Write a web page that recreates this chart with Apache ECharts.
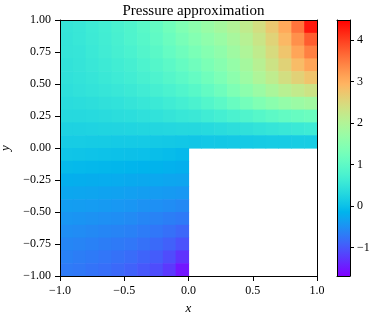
<!DOCTYPE html>
<html><head><meta charset="utf-8">
<script src="https://cdn.jsdelivr.net/npm/echarts@6/dist/echarts.min.js"></script>
<style>html,body{margin:0;padding:0;background:#fff}#c{width:381px;height:313px}</style>
</head><body><div id="c"></div>
<script>
// ---- data ----
const title = 'Pressure approximation';
const xTickLabels = ['\u22121.0', '\u22120.5', '0.0', '0.5', '1.0'];
const yTickLabels = ['\u22121.00', '\u22120.75', '\u22120.50', '\u22120.25', '0.00', '0.25', '0.50', '0.75', '1.00'];
const cbTicks = [-1, 0, 1, 2, 3, 4];
const cbMin = -1.69;
const cbMax = 4.48;
const cellSize = 0.1;
// cell centres
const xCenters = [-0.95, -0.85, -0.75, -0.65, -0.55, -0.45, -0.35, -0.25, -0.15, -0.05,
                  0.05, 0.15, 0.25, 0.35, 0.45, 0.55, 0.65, 0.75, 0.85, 0.95];
const yUpper = [0.95, 0.85, 0.75, 0.65, 0.55, 0.45, 0.35, 0.25, 0.15, 0.05];
const yLower = [-0.05, -0.15, -0.25, -0.35, -0.45, -0.55, -0.65, -0.75, -0.85, -0.95];
// upper strip: y in [0,1], x in [-1,1]
const upperValues = [
  [0.50,0.54,0.60,0.66,0.74,0.82,0.93,1.05,1.22,1.40,1.55,1.70,1.85,2.00,2.18,2.40,2.70,3.05,3.55,4.30],
  [0.49,0.53,0.59,0.65,0.72,0.80,0.90,1.01,1.15,1.30,1.44,1.58,1.72,1.88,2.06,2.28,2.56,2.89,3.30,3.75],
  [0.49,0.51,0.57,0.63,0.69,0.76,0.85,0.95,1.07,1.19,1.32,1.46,1.60,1.78,1.96,2.18,2.45,2.75,3.10,3.45],
  [0.46,0.49,0.54,0.59,0.64,0.70,0.78,0.87,0.97,1.08,1.20,1.34,1.48,1.66,1.85,2.07,2.32,2.57,2.85,3.10],
  [0.44,0.47,0.51,0.55,0.60,0.65,0.72,0.79,0.88,0.97,1.07,1.21,1.36,1.55,1.75,1.96,2.17,2.39,2.58,2.76],
  [0.41,0.44,0.47,0.50,0.54,0.58,0.63,0.69,0.76,0.83,0.92,1.05,1.19,1.37,1.55,1.73,1.91,2.08,2.20,2.32],
  [0.36,0.38,0.40,0.43,0.45,0.49,0.53,0.57,0.62,0.68,0.75,0.86,0.97,1.11,1.25,1.39,1.52,1.64,1.73,1.80],
  [0.31,0.32,0.33,0.35,0.37,0.39,0.42,0.45,0.49,0.53,0.56,0.62,0.68,0.75,0.82,0.90,0.98,1.05,1.10,1.15],
  [0.22,0.22,0.23,0.24,0.25,0.26,0.27,0.28,0.29,0.30,0.30,0.33,0.36,0.40,0.43,0.47,0.50,0.54,0.57,0.60],
  [0.13,0.13,0.12,0.12,0.11,0.11,0.11,0.10,0.09,0.07,0.06,0.08,0.09,0.10,0.11,0.12,0.13,0.14,0.15,0.15]
];
// lower-left block: y in [-1,0], x in [-1,0]
const lowerValues = [
  [0.04,0.03,0.02,0.01,0.00,-0.01,-0.02,-0.04,-0.06,-0.09],
  [-0.08,-0.09,-0.10,-0.11,-0.12,-0.14,-0.15,-0.16,-0.18,-0.20],
  [-0.20,-0.21,-0.22,-0.23,-0.24,-0.26,-0.27,-0.28,-0.30,-0.31],
  [-0.29,-0.30,-0.31,-0.33,-0.34,-0.36,-0.38,-0.40,-0.42,-0.44],
  [-0.38,-0.39,-0.40,-0.42,-0.44,-0.46,-0.49,-0.51,-0.54,-0.57],
  [-0.46,-0.47,-0.49,-0.51,-0.53,-0.56,-0.60,-0.63,-0.67,-0.71],
  [-0.53,-0.55,-0.57,-0.60,-0.62,-0.65,-0.69,-0.74,-0.80,-0.88],
  [-0.60,-0.62,-0.65,-0.68,-0.71,-0.74,-0.79,-0.85,-0.93,-1.05],
  [-0.65,-0.68,-0.71,-0.75,-0.79,-0.83,-0.90,-0.97,-1.10,-1.30],
  [-0.70,-0.73,-0.77,-0.81,-0.86,-0.92,-1.00,-1.09,-1.25,-1.52]
];

// ---- build ----
const cells = [];
yUpper.forEach((y, i) => xCenters.forEach((x, j) => cells.push([x, y, upperValues[i][j]])));
yLower.forEach((y, i) => lowerValues[i].forEach((v, j) => cells.push([xCenters[j], y, v])));

function rainbow(t) {
  const r = Math.min(1, Math.abs(2 * t - 0.5));
  const g = Math.sin(Math.PI * t);
  const b = Math.cos(Math.PI * t / 2);
  const h = v => Math.round(Math.max(0, Math.min(1, v)) * 255);
  return 'rgb(' + h(r) + ',' + h(g) + ',' + h(b) + ')';
}
const N = 40;
const cmap = [];
for (let i = 0; i <= N; i++) cmap.push(rainbow(i / N));

const FONT = 'Liberation Serif';
const chart = echarts.init(document.getElementById('c'), null, {renderer: 'canvas'});
const half = cellSize / 2;
const LINE = {show: true, onZero: false, lineStyle: {color: '#000', width: 1}};
const TXT = {color: '#000', fontSize: 12, fontFamily: FONT};

function borderAxis(extra) {
  return Object.assign({type: 'value', z: 10, axisLine: LINE, axisTick: {show: false},
    axisLabel: {show: false}, splitLine: {show: false}}, extra);
}

chart.setOption({
  animation: false,
  backgroundColor: '#fff',
  textStyle: {fontFamily: FONT},
  title: {text: title, left: 188.5, textAlign: 'center', top: -1,
    textStyle: {fontFamily: FONT, fontSize: 15, fontWeight: 'normal', color: '#000'}},
  grid: [
    {left: 60, top: 20, width: 257, height: 256, containLabel: false, outerBoundsMode: 'none'},
    {left: 337, top: 20, width: 13, height: 256, containLabel: false, outerBoundsMode: 'none'}
  ],
  xAxis: [
    {gridIndex: 0, type: 'value', position: 'bottom', min: -1, max: 1, interval: 0.5, z: 10,
     name: 'x', nameLocation: 'middle', nameGap: 26,
     nameTextStyle: {fontFamily: FONT, fontStyle: 'italic', fontSize: 13, color: '#000'},
     axisLine: LINE, splitLine: {show: false},
     axisTick: {show: true, length: 5, lineStyle: {color: '#000'}},
     axisLabel: Object.assign({margin: 9, formatter: v => xTickLabels[Math.round((v + 1) / 0.5)]}, TXT)},
    borderAxis({gridIndex: 0, position: 'top', min: -1, max: 1}),
    borderAxis({gridIndex: 1, position: 'bottom', min: 0, max: 1}),
    borderAxis({gridIndex: 1, position: 'top', min: 0, max: 1})
  ],
  yAxis: [
    {gridIndex: 0, type: 'value', position: 'left', min: -1, max: 1, interval: 0.25, z: 10,
     name: 'y', nameLocation: 'middle', nameGap: 47, nameRotate: 90,
     nameTextStyle: {fontFamily: FONT, fontStyle: 'italic', fontSize: 13, color: '#000'},
     axisLine: LINE, splitLine: {show: false},
     axisTick: {show: true, length: 5, lineStyle: {color: '#000'}},
     axisLabel: Object.assign({margin: 9, formatter: v => yTickLabels[Math.round((v + 1) / 0.25)]}, TXT)},
    borderAxis({gridIndex: 0, position: 'right', min: -1, max: 1}),
    borderAxis({gridIndex: 1, position: 'left', min: cbMin, max: cbMax}),
    {gridIndex: 1, type: 'value', min: cbMin, max: cbMax, position: 'right', z: 10,
     axisLine: LINE, splitLine: {show: false},
     axisTick: {show: true, length: 4, lineStyle: {color: '#000'}, customValues: cbTicks},
     axisLabel: Object.assign({margin: 7, customValues: cbTicks,
       formatter: v => (v < 0 ? '\u2212' + Math.abs(v) : String(v))}, TXT)}
  ],
  visualMap: {type: 'continuous', show: false, min: cbMin, max: cbMax, dimension: 2,
    seriesIndex: 0, inRange: {color: cmap}},
  series: [
    {type: 'custom', xAxisIndex: 0, yAxisIndex: 0, data: cells, encode: {x: 0, y: 1}, clip: true,
     renderItem: function (params, api) {
       const x = api.value(0), y = api.value(1);
       const p0 = api.coord([x - half, y + half]);
       const p1 = api.coord([x + half, y - half]);
       return {type: 'rect',
         shape: {x: p0[0], y: p0[1], width: p1[0] - p0[0] + 0.6, height: p1[1] - p0[1] + 0.6},
         style: {fill: api.visual('color')}};
     }},
    {type: 'custom', xAxisIndex: 2, yAxisIndex: 3, data: [[0, cbMin, 1, cbMax]],
     renderItem: function (params, api) {
       const p0 = api.coord([api.value(0), api.value(3)]);
       const p1 = api.coord([api.value(2), api.value(1)]);
       const stops = cmap.map((c, i) => ({offset: i / N, color: c}));
       return {type: 'rect', shape: {x: p0[0], y: p0[1], width: p1[0] - p0[0], height: p1[1] - p0[1]},
         style: {fill: new echarts.graphic.LinearGradient(0, 1, 0, 0, stops)}};
     }}
  ]
});
</script></body></html>
